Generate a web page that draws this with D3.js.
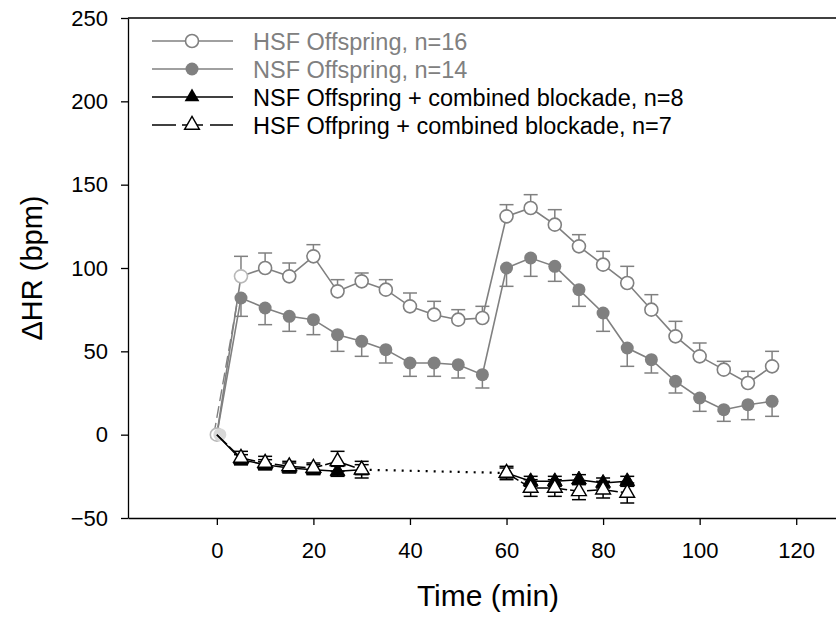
<!DOCTYPE html>
<html>
<head>
<meta charset="utf-8">
<script src="https://cdn.jsdelivr.net/npm/d3@7"></script>
<style>
  body { margin: 0; background: #fff; overflow: hidden; }
  svg { display: block; font-family: "Liberation Sans", Arial, sans-serif; }
</style>
</head>
<body>
<svg id="chart" width="836" height="629"></svg>
<script>
// time points (min)
const timesFull = [0, 5, 10, 15, 20, 25, 30, 35, 40, 45, 50, 55, 60, 65, 70, 75, 80, 85, 90, 95, 100, 105, 110, 115]

// HSF offspring (open circle), SE drawn upwards
const hsfMean = [0, 95, 100, 95, 107, 86, 92, 87, 77, 72, 69, 70, 131, 136, 126, 113, 102, 91, 75, 59, 47, 39, 31, 41]
const hsfErr  = [0, 12, 9, 8, 7, 7, 5, 6, 8, 8, 6, 7, 7, 8, 9, 7, 8, 10, 9, 9, 8, 5, 7, 9]

// NSF offspring (filled circle), SE drawn downwards
const nsfMean = [0, 82, 76, 71, 69, 60, 56, 51, 43, 43, 42, 36, 100, 106, 101, 87, 73, 52, 45, 32, 22, 15, 18, 20]
const nsfErr  = [0, 11, 10, 9, 9, 10, 9, 8, 8, 8, 8, 8, 11, 11, 9, 10, 11, 11, 8, 7, 8, 7, 9, 9]

// blockade groups: two sessions, 0-30 and 60-85
const blockTimesA = [0, 5, 10, 15, 20, 25, 30]
const blockTimesB = [60, 65, 70, 75, 80, 85]

const nsfBlockA    = [0, -15, -18, -20, -21, -22, -21]
const nsfBlockAErr = [0, 3, 3, 3, 3, 3, 3]
const nsfBlockB    = [-23, -28, -28, -27, -29, -28]
const nsfBlockBErr = [3, 3, 3, 3, 3, 3]

const hsfBlockA    = [0, -14, -17, -19, -20, -16, -21]
const hsfBlockAErr = [0, 4, 4, 3, 3, 6, 5]
const hsfBlockB    = [-23, -32, -32, -34, -33, -35]
const hsfBlockBErr = [4, 5, 5, 5, 5, 6]

const xTicks = [0, 20, 40, 60, 80, 100, 120]
const yTicks = [-50, 0, 50, 100, 150, 200, 250]

const legendLabels = [
  'HSF Offspring, n=16',
  'NSF Offspring, n=14',
  'NSF Offspring + combined blockade, n=8',
  'HSF Offpring + combined blockade, n=7'
]

const GRAY = '#808080'
const FONT = 'Liberation Sans, Arial, sans-serif'
const svg = d3.select('#chart')

// plot runs past the right edge of the picture (cropped frame)
const x = d3.scaleLinear().domain([-18.4, 130]).range([128, 844.5])
const y = d3.scaleLinear().domain([-50, 250]).range([518, 18])

// axes
svg.append('g')
  .attr('transform', 'translate(0,518)')
  .call(d3.axisBottom(x).tickValues(xTicks).tickSize(7).tickSizeOuter(0).tickPadding(17))
  .call(g => g.selectAll('text').attr('font-size', 22).attr('fill', '#000').attr('font-family', FONT))
  .call(g => g.selectAll('line,path').attr('stroke', '#000').attr('stroke-width', 1.3))

svg.append('g')
  .attr('transform', 'translate(128,0)')
  .call(d3.axisLeft(y).tickValues(yTicks).tickSize(7).tickSizeOuter(0).tickPadding(13))
  .call(g => g.selectAll('text').attr('font-size', 22).attr('fill', '#000').attr('font-family', FONT))
  .call(g => g.selectAll('line,path').attr('stroke', '#000').attr('stroke-width', 1.3))

// top frame line
svg.append('line')
  .attr('x1', x.range()[0]).attr('x2', x.range()[1])
  .attr('y1', y(250)).attr('y2', y(250))
  .attr('stroke', '#000').attr('stroke-width', 1.3)

// axis titles
svg.append('text')
  .attr('x', 488).attr('y', 606)
  .attr('text-anchor', 'middle').attr('font-size', 30)
  .text('Time (min)')

svg.append('text')
  .attr('transform', `translate(42,${y(100)}) rotate(-90)`)
  .attr('text-anchor', 'middle').attr('font-size', 29)
  .text('ΔHR (bpm)')

const line = d3.line().x(d => x(d.t)).y(d => y(d.v))
const zip = (ts, vs, es) => ts.map((t, i) => ({ t, v: vs[i], e: es[i] }))

const hsf = zip(timesFull, hsfMean, hsfErr)
const nsf = zip(timesFull, nsfMean, nsfErr)
const nsfBA = zip(blockTimesA, nsfBlockA, nsfBlockAErr)
const nsfBB = zip(blockTimesB, nsfBlockB, nsfBlockBErr)
const hsfBA = zip(blockTimesA, hsfBlockA, hsfBlockAErr)
const hsfBB = zip(blockTimesB, hsfBlockB, hsfBlockBErr)

const plot = svg.append('g')

// error bars: dir = 1 up, -1 down, 0 both
function errBars(data, dir, color) {
  const g = plot.append('g').attr('stroke', color).attr('stroke-width', 1.5)
  data.filter(d => d.e > 0).forEach(d => {
    const lo = dir > 0 ? d.v : d.v - d.e
    const hi = dir < 0 ? d.v : d.v + d.e
    g.append('line').attr('x1', x(d.t)).attr('x2', x(d.t)).attr('y1', y(lo)).attr('y2', y(hi))
    if (dir >= 0) g.append('line').attr('x1', x(d.t) - 7).attr('x2', x(d.t) + 7).attr('y1', y(hi)).attr('y2', y(hi))
    if (dir <= 0) g.append('line').attr('x1', x(d.t) - 7).attr('x2', x(d.t) + 7).attr('y1', y(lo)).attr('y2', y(lo))
  })
}

errBars(hsf, 1, GRAY)
errBars(nsf, -1, GRAY)

// gray lines
plot.append('path').datum(hsf).attr('d', line).attr('fill', 'none').attr('stroke', GRAY).attr('stroke-width', 1.6)
plot.append('path').datum(nsf).attr('d', line).attr('fill', 'none').attr('stroke', GRAY).attr('stroke-width', 1.6)
// dashed rise from baseline, drawn just left of the solid one
plot.append('path').datum(nsf.slice(0, 2)).attr('d', line).attr('fill', 'none')
  .attr('transform', 'translate(-3,0)')
  .attr('stroke', GRAY).attr('stroke-width', 1.4).attr('stroke-dasharray', '12,5')

// gray markers
plot.append('g').selectAll('circle').data(hsf).join('circle')
  .attr('cx', d => x(d.t)).attr('cy', d => y(d.v)).attr('r', 6.5)
  .attr('fill', '#fff').attr('stroke', (d, i) => i < 2 ? '#b8b8b8' : GRAY).attr('stroke-width', 1.6)
plot.append('g').selectAll('circle').data(nsf).join('circle')
  .attr('cx', d => x(d.t) + (d.t === 0 ? 3 : 0)).attr('cy', d => y(d.v)).attr('r', 6.5)
  .attr('fill', (d, i) => i === 0 ? '#d8d8d8' : GRAY).attr('stroke', 'none')

// blockade
errBars(nsfBA, 0, '#000')
errBars(nsfBB, 0, '#000')
errBars(hsfBA, 0, '#000')
errBars(hsfBB, 0, '#000')

const blk = plot.append('g').attr('fill', 'none').attr('stroke', '#000').attr('stroke-width', 1.5)
blk.append('path').datum(nsfBA).attr('d', line)
blk.append('path').datum(nsfBB).attr('d', line)
blk.append('path').datum(hsfBA).attr('d', line).attr('stroke-dasharray', '14,3')
blk.append('path').datum(hsfBB).attr('d', line).attr('stroke-dasharray', '14,3')
// dotted gap between sessions
blk.append('path').datum([nsfBA[nsfBA.length - 1], nsfBB[0]]).attr('d', line)
  .attr('stroke-width', 2.2).attr('stroke-dasharray', '2,6')

const tri = d3.symbol().type(d3.symbolTriangle).size(95)
plot.append('g').selectAll('path').data(nsfBA.slice(1).concat(nsfBB)).join('path')
  .attr('d', tri).attr('transform', d => `translate(${x(d.t)},${y(d.v)})`)
  .attr('fill', '#000').attr('stroke', '#000').attr('stroke-width', 1)
plot.append('g').selectAll('path').data(hsfBA.slice(1).concat(hsfBB)).join('path')
  .attr('d', tri).attr('transform', d => `translate(${x(d.t)},${y(d.v)})`)
  .attr('fill', '#fff').attr('stroke', '#000').attr('stroke-width', 1.4)

// legend
const legend = svg.append('g')
const legendStyles = [
  { color: GRAY, marker: 'openCircle', dash: false },
  { color: GRAY, marker: 'fillCircle', dash: false },
  { color: '#000', marker: 'fillTri', dash: false },
  { color: '#000', marker: 'openTri', dash: true }
]
legendLabels.forEach((lab, i) => {
  const st = legendStyles[i]
  const ly = 41 + i * 28
  const row = legend.append('g').attr('transform', `translate(0,${ly})`)
  if (st.dash) {
    row.append('line').attr('x1', 152).attr('x2', 176).attr('stroke', st.color).attr('stroke-width', 1.5)
    row.append('line').attr('x1', 182).attr('x2', 203).attr('stroke', st.color).attr('stroke-width', 1.5)
    row.append('line').attr('x1', 210).attr('x2', 233).attr('stroke', st.color).attr('stroke-width', 1.5)
  } else {
    row.append('line').attr('x1', 152).attr('x2', 233).attr('stroke', st.color).attr('stroke-width', 1.5)
  }
  if (st.marker === 'openCircle') row.append('circle').attr('cx', 192).attr('r', 6.5).attr('fill', '#fff').attr('stroke', GRAY).attr('stroke-width', 1.6)
  if (st.marker === 'fillCircle') row.append('circle').attr('cx', 192).attr('r', 6.5).attr('fill', GRAY)
  if (st.marker === 'fillTri') row.append('path').attr('d', tri).attr('transform', 'translate(192,0)').attr('fill', '#000')
  if (st.marker === 'openTri') row.append('path').attr('d', tri).attr('transform', 'translate(192,0)').attr('fill', '#fff').attr('stroke', '#000').attr('stroke-width', 1.4)
  row.append('text').attr('x', 253).attr('y', 8.5).attr('font-size', 23.5)
    .attr('fill', i < 2 ? GRAY : '#000').text(lab)
})
</script>
</body>
</html>
